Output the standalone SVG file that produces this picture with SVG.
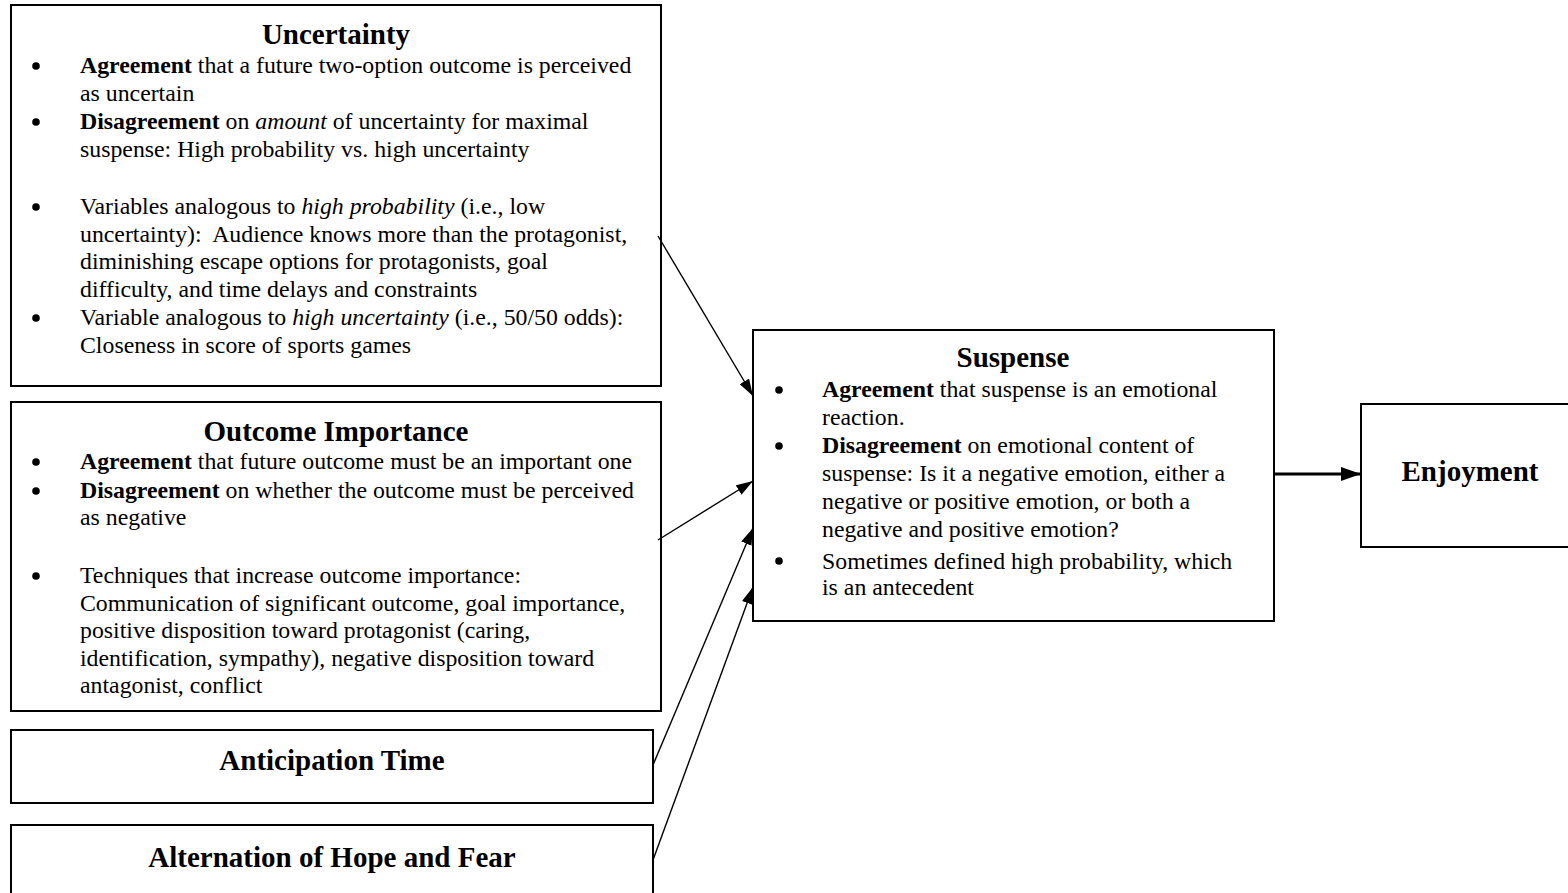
<svg xmlns="http://www.w3.org/2000/svg" width="1568" height="893" viewBox="0 0 1568 893">
<defs>
<style>
.box{fill:#fff;stroke:#000;stroke-width:2}
text{font-family:"Liberation Serif","Times New Roman",serif;fill:#000}
.t{font-size:29px;font-weight:bold;text-anchor:middle}
.b{font-size:23.8px}
.bo{font-weight:bold}
.it{font-style:italic}
.dot{fill:#000}
.c{stroke:#000;stroke-width:1.4;fill:none}
.ct{stroke:#000;stroke-width:3;fill:none}
</style>
<marker id="ah" viewBox="0 0 17 11" refX="17" refY="5.5" markerUnits="userSpaceOnUse" markerWidth="17" markerHeight="11" orient="auto">
<path d="M0,0 L17,5.5 L0,11 Z" fill="#000"/>
</marker>
<marker id="ahb" viewBox="0 0 20 14" refX="20" refY="7" markerUnits="userSpaceOnUse" markerWidth="20" markerHeight="14" orient="auto">
<path d="M0,0 L20,7 L0,14 Z" fill="#000"/>
</marker>
</defs>
<rect width="1568" height="893" fill="#fff"/>

<g id="uncertainty">
<rect class="box" x="11" y="5" width="650" height="381"/>
<text class="t" x="336" y="44">Uncertainty</text>
<circle class="dot" cx="36" cy="66" r="3.8"/>
<circle class="dot" cx="36" cy="122" r="3.8"/>
<circle class="dot" cx="36" cy="207" r="3.8"/>
<circle class="dot" cx="36" cy="318" r="3.8"/>
<g class="b">
<text x="80" y="73"><tspan class="bo">Agreement</tspan> that a future two-option outcome is perceived</text>
<text x="80" y="100.5">as uncertain</text>
<text x="80" y="129"><tspan class="bo">Disagreement</tspan> on <tspan class="it">amount</tspan> of uncertainty for maximal</text>
<text x="80" y="156.5">suspense: High probability vs. high uncertainty</text>
<text x="80" y="214">Variables analogous to <tspan class="it">high probability</tspan> (i.e., low</text>
<text x="80" y="241.5" xml:space="preserve">uncertainty):  Audience knows more than the protagonist,</text>
<text x="80" y="269">diminishing escape options for protagonists, goal</text>
<text x="80" y="296.5">difficulty, and time delays and constraints</text>
<text x="80" y="325">Variable analogous to <tspan class="it">high uncertainty</tspan> (i.e., 50/50 odds):</text>
<text x="80" y="352.5">Closeness in score of sports games</text>
</g>
</g>

<g id="outcome">
<rect class="box" x="11" y="402" width="650" height="309"/>
<text class="t" x="336" y="441">Outcome Importance</text>
<circle class="dot" cx="36" cy="462" r="3.8"/>
<circle class="dot" cx="36" cy="491" r="3.8"/>
<circle class="dot" cx="36" cy="576" r="3.8"/>
<g class="b">
<text x="80" y="469"><tspan class="bo">Agreement</tspan> that future outcome must be an important one</text>
<text x="80" y="498"><tspan class="bo">Disagreement</tspan> on whether the outcome must be perceived</text>
<text x="80" y="525">as negative</text>
<text x="80" y="583">Techniques that increase outcome importance:</text>
<text x="80" y="611">Communication of significant outcome, goal importance,</text>
<text x="80" y="638">positive disposition toward protagonist (caring,</text>
<text x="80" y="666">identification, sympathy), negative disposition toward</text>
<text x="80" y="693">antagonist, conflict</text>
</g>
</g>

<g id="anticipation">
<rect class="box" x="11" y="730" width="642" height="73"/>
<text class="t" x="332" y="770">Anticipation Time</text>
</g>

<g id="alternation">
<rect class="box" x="11" y="825" width="642" height="100"/>
<text class="t" x="332" y="867">Alternation of Hope and Fear</text>
</g>

<g id="suspense">
<rect class="box" x="753" y="330" width="521" height="291"/>
<text class="t" x="1013" y="367">Suspense</text>
<circle class="dot" cx="779" cy="390" r="3.8"/>
<circle class="dot" cx="779" cy="446" r="3.8"/>
<circle class="dot" cx="779" cy="561" r="3.8"/>
<g class="b">
<text x="822" y="397"><tspan class="bo">Agreement</tspan> that suspense is an emotional</text>
<text x="822" y="425">reaction.</text>
<text x="822" y="453"><tspan class="bo">Disagreement</tspan> on emotional content of</text>
<text x="822" y="481">suspense: Is it a negative emotion, either a</text>
<text x="822" y="509">negative or positive emotion, or both a</text>
<text x="822" y="537">negative and positive emotion?</text>
<text x="822" y="569">Sometimes defined high probability, which</text>
<text x="822" y="595">is an antecedent</text>
</g>
</g>

<g id="enjoyment">
<rect class="box" x="1361" y="404" width="240" height="143"/>
<text class="t" x="1470" y="481">Enjoyment</text>
</g>

<g id="connectors">
<line class="c" x1="658" y1="236" x2="753" y2="396" marker-end="url(#ah)"/>
<line class="c" x1="658" y1="540" x2="753" y2="481" marker-end="url(#ah)"/>
<line class="c" x1="653" y1="765" x2="753" y2="528" marker-end="url(#ah)"/>
<line class="c" x1="653" y1="860" x2="753" y2="587" marker-end="url(#ah)"/>
<line class="ct" x1="1274" y1="474" x2="1361" y2="474" marker-end="url(#ahb)"/>
</g>
</svg>
